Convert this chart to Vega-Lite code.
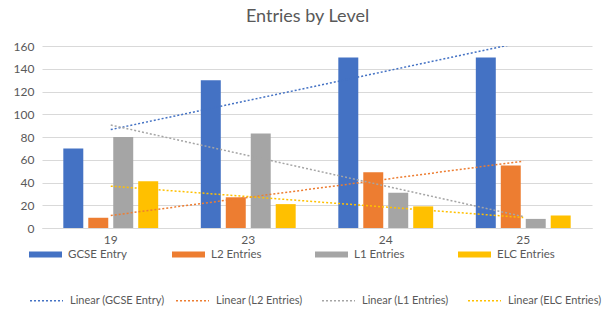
{
  "$schema": "https://vega.github.io/schema/vega-lite/v6.json",
  "width": 550,
  "height": 182,
  "autosize": {"type": "none"},
  "padding": {"left": 42, "top": 46, "right": 16, "bottom": 97},
  "background": "white",
  "title": {"text": "Entries by Level", "anchor": "middle", "frame": "bounds", "fontSize": 18, "font": "Lato", "fontWeight": "normal", "color": "#595959", "offset": 14},
  "config": {"view": {"stroke": null}, "font": "Lato"},
  "encoding": {
    "x": {"field": "Year", "type": "nominal", "scale": {"paddingInner": 0.31, "paddingOuter": 0.155},
          "axis": {"title": null, "labelAngle": 0, "ticks": false, "domainColor": "#D9D9D9", "labelColor": "#595959", "labelFontSize": 12, "labelPadding": 6, "grid": false}},
    "y": {"field": "Value", "type": "quantitative", "scale": {"domain": [0, 160], "nice": false},
          "axis": {"title": null, "values": [0, 20, 40, 60, 80, 100, 120, 140, 160], "labelOverlap": false, "labelSeparation": 0, "domain": false, "ticks": false, "grid": true, "gridColor": "#D9D9D9", "labelColor": "#595959", "labelFontSize": 12, "labelPadding": 8}}
  },
  "layer": [
    {
      "data": {"values": [
        {"Year": "19", "Series": "GCSE Entry", "Value": 70},
        {"Year": "19", "Series": "L2 Entries", "Value": 9},
        {"Year": "19", "Series": "L1 Entries", "Value": 80},
        {"Year": "19", "Series": "ELC Entries", "Value": 41},
        {"Year": "23", "Series": "GCSE Entry", "Value": 130},
        {"Year": "23", "Series": "L2 Entries", "Value": 27},
        {"Year": "23", "Series": "L1 Entries", "Value": 83},
        {"Year": "23", "Series": "ELC Entries", "Value": 21},
        {"Year": "24", "Series": "GCSE Entry", "Value": 150},
        {"Year": "24", "Series": "L2 Entries", "Value": 49},
        {"Year": "24", "Series": "L1 Entries", "Value": 31},
        {"Year": "24", "Series": "ELC Entries", "Value": 19},
        {"Year": "25", "Series": "GCSE Entry", "Value": 150},
        {"Year": "25", "Series": "L2 Entries", "Value": 55},
        {"Year": "25", "Series": "L1 Entries", "Value": 8},
        {"Year": "25", "Series": "ELC Entries", "Value": 11}
      ]},
      "mark": {"type": "bar"},
      "encoding": {
        "xOffset": {"field": "Series", "type": "nominal", "sort": ["GCSE Entry", "L2 Entries", "L1 Entries", "ELC Entries"], "scale": {"paddingInner": 0.2, "paddingOuter": 0}},
        "fill": {"field": "Series", "type": "nominal",
                 "scale": {"domain": ["GCSE Entry", "L2 Entries", "L1 Entries", "ELC Entries"], "range": ["#4472C4", "#ED7D31", "#A5A5A5", "#FFC000"]},
                 "legend": {"title": null, "orient": "none", "legendX": -13, "legendY": 192, "columns": 4, "gridAlign": "all", "symbolType": "M-1,-0.18H1V0.18H-1Z", "symbolSize": 1089, "symbolStrokeWidth": 0, "labelOffset": 6, "columnPadding": 45, "labelFontSize": 11.5, "labelColor": "#595959"}}
      }
    },
    {
      "data": {"values": [
        {"Year": "19", "Trend": "Linear (GCSE Entry)", "Value": 86.5},
        {"Year": "25", "Trend": "Linear (GCSE Entry)", "Value": 163.5},
        {"Year": "19", "Trend": "Linear (L2 Entries)", "Value": 11},
        {"Year": "25", "Trend": "Linear (L2 Entries)", "Value": 58.8},
        {"Year": "19", "Trend": "Linear (L1 Entries)", "Value": 90.5},
        {"Year": "25", "Trend": "Linear (L1 Entries)", "Value": 10},
        {"Year": "19", "Trend": "Linear (ELC Entries)", "Value": 36.8},
        {"Year": "25", "Trend": "Linear (ELC Entries)", "Value": 9.2}
      ]},
      "mark": {"type": "line", "clip": true, "strokeDash": [2, 2], "strokeWidth": 1.5},
      "encoding": {
        "stroke": {"field": "Trend", "type": "nominal",
                   "scale": {"domain": ["Linear (GCSE Entry)", "Linear (L2 Entries)", "Linear (L1 Entries)", "Linear (ELC Entries)"], "range": ["#4472C4", "#ED7D31", "#A5A5A5", "#FFC000"]},
                   "legend": {"title": null, "orient": "none", "legendX": -13, "legendY": 237, "columns": 4, "gridAlign": "all", "symbolType": "M-1,0H1", "symbolSize": 1089, "symbolStrokeWidth": 1.5, "symbolDash": [2, 2], "labelOffset": 6, "columnPadding": 8, "labelFontSize": 11, "labelColor": "#595959"}}
      }
    }
  ]
}
